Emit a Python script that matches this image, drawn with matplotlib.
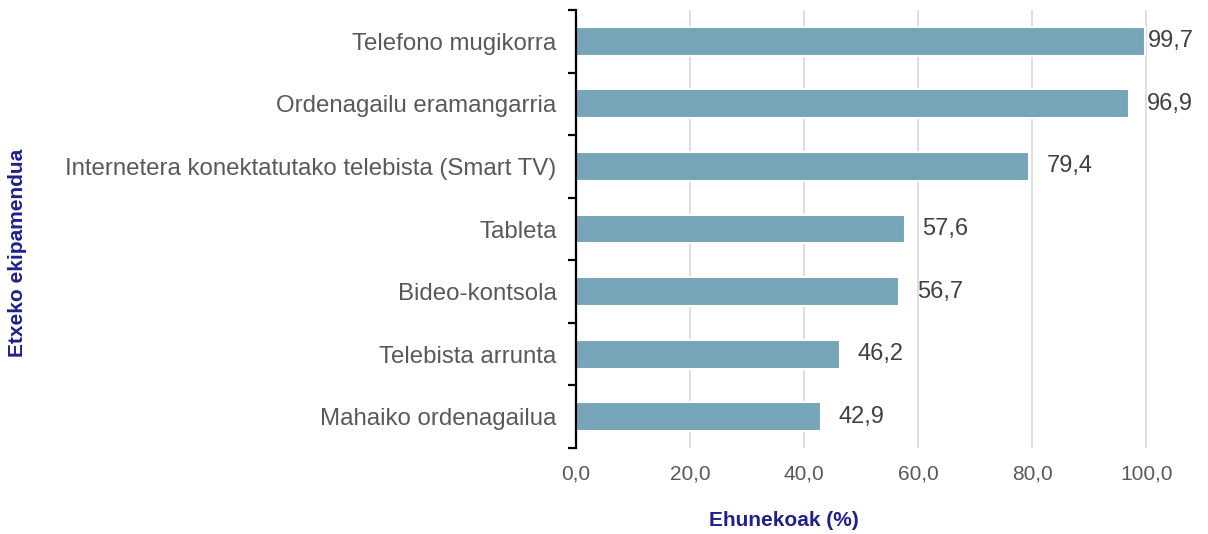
import matplotlib
matplotlib.use("Agg")
import matplotlib.pyplot as plt
import numpy as np

plt.rcParams['font.family'] = ['Liberation Sans', 'DejaVu Sans']

# Datuak
kategoriak = ['Telefono mugikorra', 'Ordenagailu eramangarria',
              'Internetera konektatutako telebista (Smart TV)', 'Tableta',
              'Bideo-kontsola', 'Telebista arrunta', 'Mahaiko ordenagailua']
balioak = [99.7, 96.9, 79.4, 57.6, 56.7, 46.2, 42.9]
x_ticks = [0, 20, 40, 60, 80, 100]
x_tick_labels = ['0,0', '20,0', '40,0', '60,0', '80,0', '100,0']

bar_color = '#76a4b8'
grid_color = '#d9d9d9'
text_gray = '#595959'
title_blue = '#1f1f8f'

fig = plt.figure(figsize=(12.08, 5.34), dpi=100)
ax = fig.add_axes([576 / 1208, 1 - 448 / 534, (1175 - 576) / 1208, 438 / 534])

y = np.arange(len(kategoriak))
ax.barh(y, balioak, height=0.46, color=bar_color, edgecolor='white',
        linewidth=1.5, zorder=3)

ax.set_xlim(0, 105)
ax.set_ylim(len(kategoriak) - 0.5, -0.5)

ax.set_xticks(x_ticks)
ax.set_xticklabels(x_tick_labels)
ax.set_yticks(y)
ax.set_yticklabels(kategoriak)
ax.set_yticks(np.arange(len(kategoriak) + 1) - 0.5, minor=True)

ax.tick_params(axis='x', length=0, pad=12, labelsize=15, labelcolor=text_gray)
ax.tick_params(axis='y', which='major', length=0, pad=14, labelsize=17.3,
               labelcolor=text_gray)
ax.tick_params(axis='y', which='minor', length=5.5, width=1.6, color='black',
               direction='out')

for s in ['top', 'right', 'bottom']:
    ax.spines[s].set_visible(False)
ax.spines['left'].set_linewidth(1.6)
ax.spines['left'].set_zorder(5)

ax.grid(axis='x', color=grid_color, linewidth=1.2, zorder=0)
ax.set_axisbelow(True)

# Balioen etiketak
for yi, v in zip(y, balioak):
    xpos = min(v + 3.15, 100.2)
    ax.text(xpos, yi, f'{v:.1f}'.replace('.', ','), va='center', ha='left',
            fontsize=17, color='#404040')

fig.text(18 / 1208, 1 - 253 / 534, 'Etxeko ekipamendua', rotation=90,
         ha='center', va='center', fontsize=15, fontweight='bold',
         color=title_blue)
fig.text(784 / 1208, 1 - 520 / 534, 'Ehunekoak (%)', ha='center',
         va='center', fontsize=15, fontweight='bold', color=title_blue)

fig.savefig('out.png', dpi=100)
